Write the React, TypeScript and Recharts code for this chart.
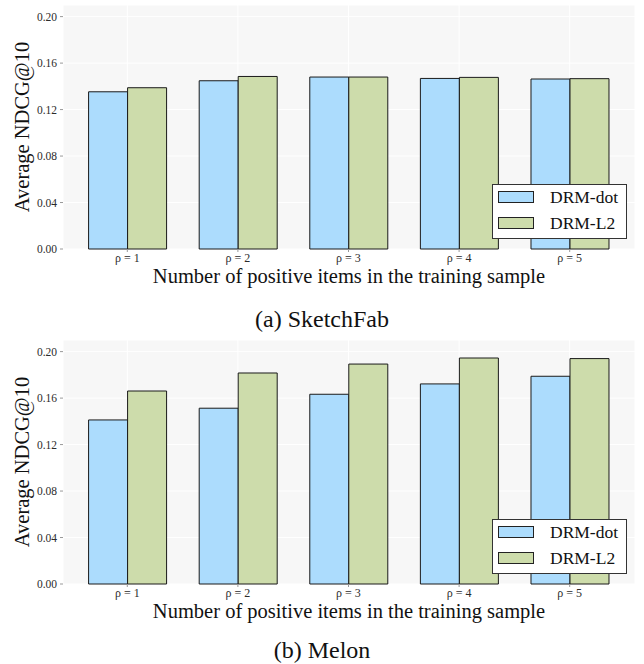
import React from "react";
import { BarChart, Bar, XAxis, YAxis, CartesianGrid } from "recharts";

// Values
const categories = ["ρ = 1", "ρ = 2", "ρ = 3", "ρ = 4", "ρ = 5"];
const sketchfabDot = [0.1353, 0.1448, 0.148, 0.1468, 0.1463];
const sketchfabL2 = [0.1388, 0.1485, 0.148, 0.1477, 0.1466];
const melonDot = [0.1412, 0.1513, 0.1633, 0.1722, 0.1788];
const melonL2 = [0.1661, 0.1816, 0.1893, 0.1945, 0.194];
const yTicks = [0, 0.04, 0.08, 0.12, 0.16, 0.2];
const seriesNames = ["DRM-dot", "DRM-L2"];

const FONT = "Liberation Serif";
const BLUE = "#acdcfd";
const GREEN = "#cddcab";

type TickProps = {
	x?: number | string;
	y?: number | string;
	payload?: { value: string | number };
};

// x tick labels (serif, small)
const XTick = (props: TickProps) => {
	const x = Number(props.x ?? 0);
	const y = Number(props.y ?? 0);
	return (
		<text x={x} y={y + 8} textAnchor="middle" fontFamily={FONT} fontSize={12} fill="#2b2b2b">
			{props.payload?.value}
		</text>
	);
};

// y tick labels, right aligned next to the tick dash
const YTick = (props: TickProps) => {
	const x = Number(props.x ?? 0);
	const y = Number(props.y ?? 0);
	return (
		<text x={x} y={y + 4} textAnchor="end" fontFamily={FONT} fontSize={11.5} fill="#2b2b2b">
			{Number(props.payload?.value ?? 0).toFixed(2)}
		</text>
	);
};

type PanelProps = {
	top: number;
	caption: string;
	captionY: number;
	dot: number[];
	l2: number[];
};

const LegendBox = () => (
	<div
		style={{
			position: "absolute",
			left: 492,
			top: 184,
			width: 135,
			height: 55,
			boxSizing: "border-box",
			border: "1px solid #333",
			background: "#fff",
			fontFamily: FONT,
			fontSize: 17.5,
			color: "#111",
		}}
	>
		{seriesNames.map((name, i) => (
			<div key={name}>
				<div
					style={{
						position: "absolute",
						left: 5,
						top: 6 + i * 26,
						width: 36,
						height: 12,
						boxSizing: "border-box",
						border: "1px solid #222",
						background: i === 0 ? BLUE : GREEN,
					}}
				/>
				<div
					style={{
						position: "absolute",
						left: 57,
						top: 1 + i * 26,
						lineHeight: "22px",
						whiteSpace: "nowrap",
					}}
				>
					{name}
				</div>
			</div>
		))}
	</div>
);

function Panel({ top, caption, captionY, dot, l2 }: PanelProps) {
	const data = categories.map((name, i) => ({ name, dot: dot[i], l2: l2[i] }));
	return (
		<div style={{ position: "absolute", left: 0, top, width: 644, height: 335 }}>
			<BarChart
				width={644}
				height={335}
				data={data}
				margin={{ top: 5, right: 9, left: 13, bottom: 35 }}
				barCategoryGap="15%"
				barGap={0}
			>
				<CartesianGrid fill="#f7f7f7" stroke="#ffffff" strokeWidth={1} />
				<XAxis
					dataKey="name"
					height={51}
					padding={{ left: 9, right: 10 }}
					axisLine={false}
					tickSize={3}
					tickMargin={2}
					tickLine={{ stroke: "#999" }}
					tick={<XTick />}
					interval={0}
				/>
				<YAxis
					width={50}
					domain={[0, 0.21]}
					ticks={yTicks}
					axisLine={false}
					tickSize={3}
					tickMargin={3}
					tickLine={{ stroke: "#999" }}
					tick={<YTick />}
				/>
				<Bar dataKey="dot" fill={BLUE} stroke="#1a1a1a" strokeWidth={1} isAnimationActive={false} />
				<Bar dataKey="l2" fill={GREEN} stroke="#1a1a1a" strokeWidth={1} isAnimationActive={false} />
			</BarChart>
			<svg
				width={644}
				height={335}
				style={{ position: "absolute", left: 0, top: 0, pointerEvents: "none" }}
			>
				<text
					x={29}
					y={127}
					transform="rotate(-90, 29, 127)"
					textAnchor="middle"
					fontFamily={FONT}
					fontSize={20.5}
					fill="#111"
				>
					Average NDCG@10
				</text>
				<text x={349} y={283} textAnchor="middle" fontFamily={FONT} fontSize={20.5} fill="#111">
					Number of positive items in the training sample
				</text>
				<text x={322} y={captionY} textAnchor="middle" fontFamily={FONT} fontSize={24} fill="#111">
					{caption}
				</text>
			</svg>
			<LegendBox />
		</div>
	);
}

export default function App() {
	return (
		<div
			style={{
				position: "absolute",
				left: 0,
				top: 0,
				width: 644,
				height: 664,
				background: "#fff",
				overflow: "hidden",
				fontFamily: FONT,
			}}
		>
			<Panel top={0} caption="(a) SketchFab" captionY={327} dot={sketchfabDot} l2={sketchfabL2} />
			<Panel top={335} caption="(b) Melon" captionY={323} dot={melonDot} l2={melonL2} />
		</div>
	);
}
